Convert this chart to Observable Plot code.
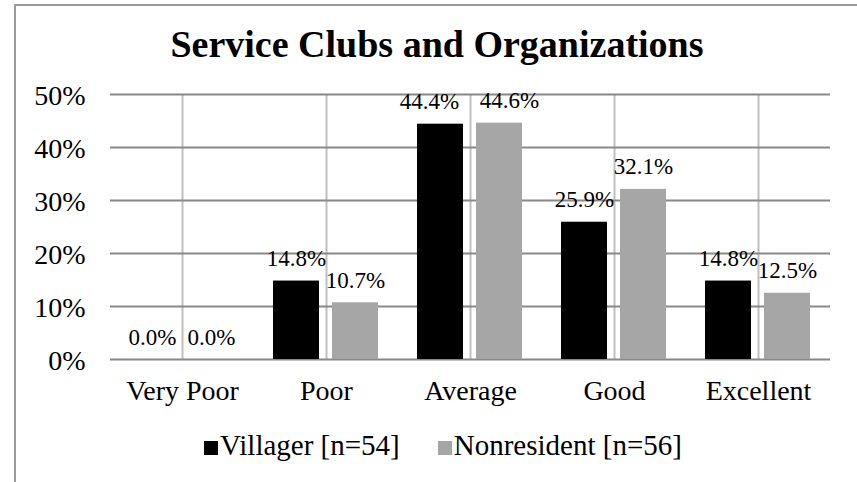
<!DOCTYPE html>
<html>
<head>
<meta charset="utf-8">
<script src="https://cdn.jsdelivr.net/npm/d3@7"></script>
<script src="https://cdn.jsdelivr.net/npm/@observablehq/plot@0.6"></script>
<style>
html, body { margin: 0; padding: 0; background: #fff; }
#page { position: relative; width: 857px; height: 482px; overflow: hidden; font-family: "Liberation Serif", serif; color: #000; background: #fff; }
#border { position: absolute; left: 14px; top: 4px; width: 900px; height: 520px; border-top: 2px solid #9a9a9a; border-left: 2px solid #9a9a9a; z-index: 2; pointer-events: none; }
#title { position: absolute; left: 0; top: 26px; width: 874px; text-align: center; font-weight: bold; font-size: 38px; line-height: 36px; white-space: nowrap; }
#chart { position: absolute; left: 0; top: 80px; }
#chart svg text { font-family: "Liberation Serif", serif; }
#legend { position: absolute; left: 0; top: 429px; width: 886px; text-align: center; font-size: 29px; line-height: 32px; white-space: nowrap; }
.item { display: inline-block; margin: 0 19px; }
.sw { display: inline-block; width: 14px; height: 14px; margin-right: 2px; }
</style>
</head>
<body>
<div id="page">
  <div id="border"></div>
  <div id="title">Service Clubs and Organizations</div>
  <div id="chart"></div>
  <div id="legend"></div>
</div>
<script>
const titleText = "Service Clubs and Organizations";
const categories = ["Very Poor", "Poor", "Average", "Good", "Excellent"];
const seriesKeys = ["Villager", "Nonresident"];
const seriesLabels = ["Villager [n=54]", "Nonresident [n=56]"];
const villager = [0.0, 14.8, 44.4, 25.9, 14.8];
const nonresident = [0.0, 10.7, 44.6, 32.1, 12.5];
const yTicks = [0, 10, 20, 30, 40, 50];
const seriesColors = ["#000000", "#a6a6a6"];

const seriesValues = [villager, nonresident];
const rows = categories.flatMap((c, i) =>
  seriesKeys.map((s, j) => ({category: c, series: s, value: seriesValues[j][i]}))
);
const fmt = d => d.value.toFixed(1) + "%";
const FONT = "Liberation Serif";

const chart = Plot.plot({
  width: 857,
  height: 330,
  marginTop: 14,
  marginBottom: 51,
  marginLeft: 109,
  marginRight: 26,
  style: {fontFamily: FONT, fontSize: "28px", background: "transparent", color: "#000", overflow: "visible"},
  fx: {domain: categories, padding: 0, label: null},
  x: {domain: seriesKeys, paddingInner: 13 / 60, paddingOuter: 0.3125, axis: null},
  y: {domain: [0, 50], label: null},
  color: {domain: seriesKeys, range: seriesColors},
  marks: [
    Plot.gridFx({stroke: "#bfbfbf", strokeOpacity: 1, strokeWidth: 2}),
    Plot.gridY(yTicks, {stroke: "#888888", strokeOpacity: 1, strokeWidth: 2}),
    Plot.barY(rows, {fx: "category", x: "series", y: "value", fill: "series"}),
    Plot.text(rows.filter(d => d.category !== "Average"), {fx: "category", x: "series", y: "value", text: fmt, lineAnchor: "bottom", dy: -15, fontSize: 23, fontFamily: FONT}),
    Plot.text(rows.filter(d => d.category === "Average" && d.series === "Villager"), {fx: "category", x: "series", y: "value", text: fmt, lineAnchor: "bottom", dy: -15, dx: -11, fontSize: 23, fontFamily: FONT}),
    Plot.text(rows.filter(d => d.category === "Average" && d.series === "Nonresident"), {fx: "category", x: "series", y: "value", text: fmt, lineAnchor: "bottom", dy: -15, dx: 10, fontSize: 23, fontFamily: FONT}),
    Plot.axisY(yTicks, {tickSize: 0, tickPadding: 25, tickFormat: d => d + "%", fontSize: 28, fontFamily: FONT, dy: 2, label: null}),
    Plot.axisFx({anchor: "bottom", tickSize: 0, tickPadding: 21, fontSize: 28, fontFamily: FONT, label: null})
  ]
});
document.getElementById("chart").appendChild(chart);

document.getElementById("title").textContent = titleText;
const legend = document.getElementById("legend");
seriesLabels.forEach((lab, i) => {
  const item = document.createElement("span");
  item.className = "item";
  const sw = document.createElement("span");
  sw.className = "sw";
  sw.style.background = seriesColors[i];
  item.appendChild(sw);
  item.appendChild(document.createTextNode(lab));
  legend.appendChild(item);
});
</script>
</body>
</html>
